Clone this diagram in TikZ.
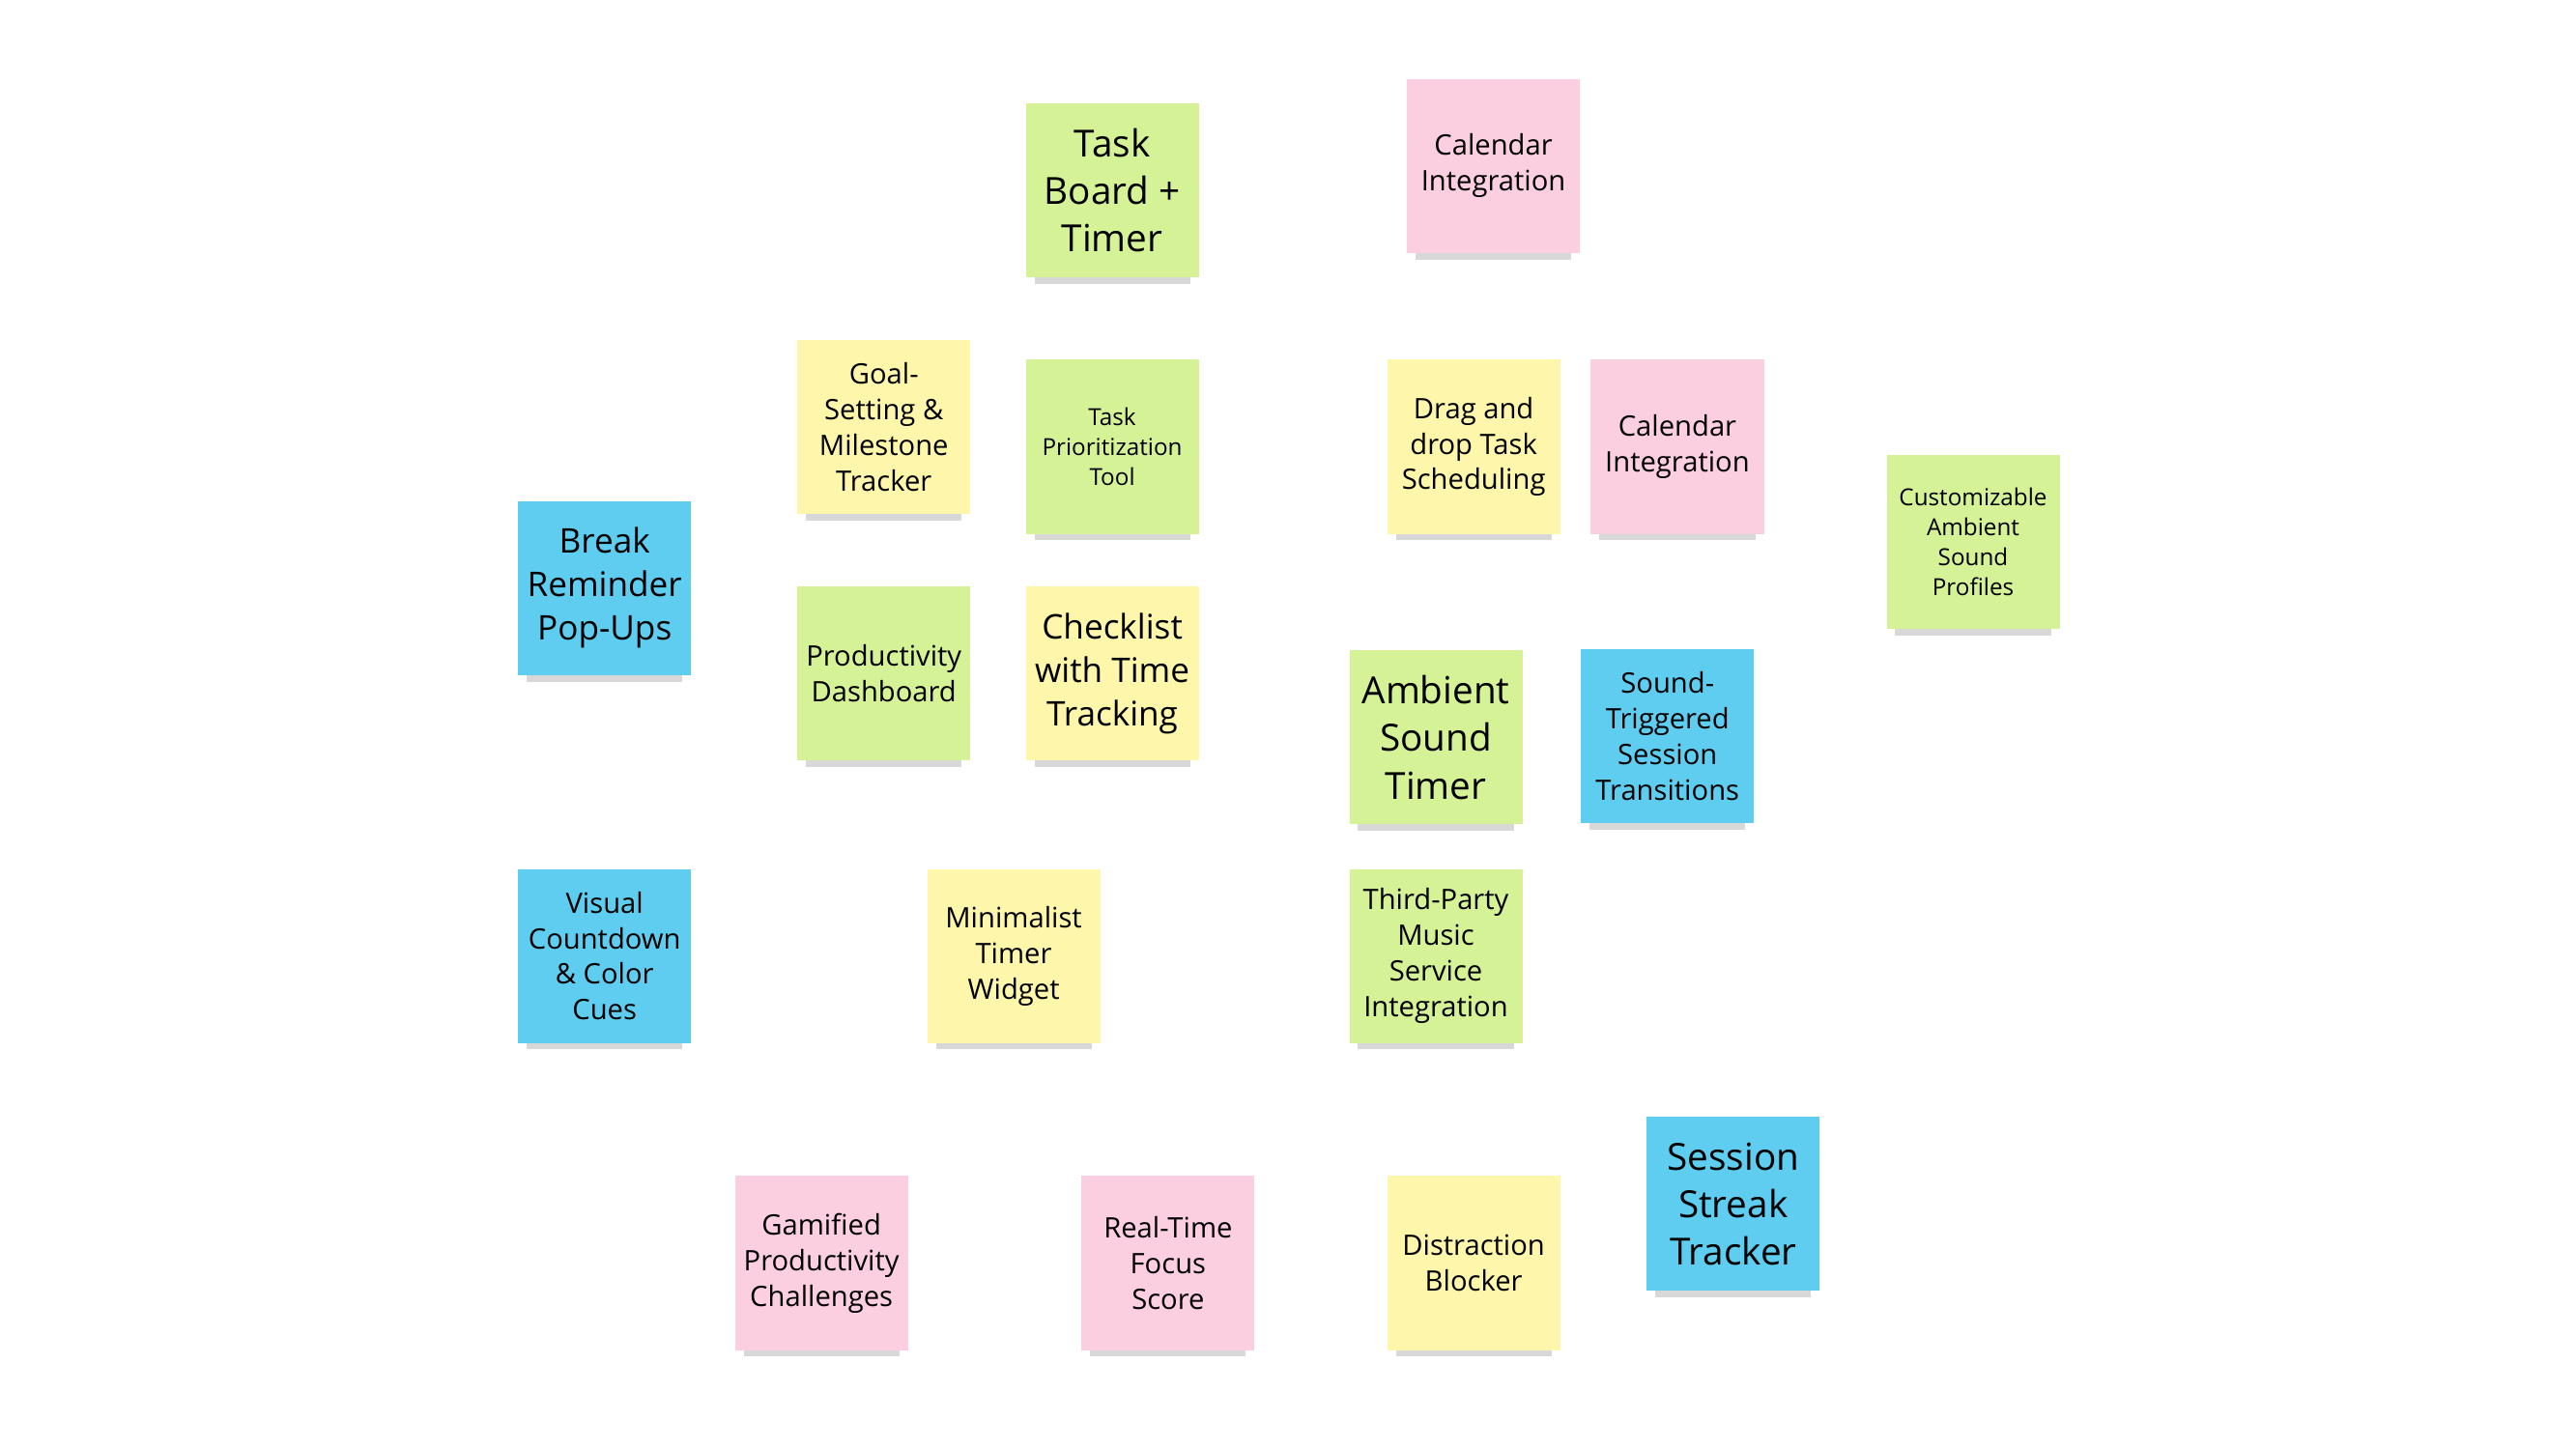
\documentclass[tikz,border=0pt]{standalone}
\usepackage{fontspec}
\setmainfont{Open Sans}
\usetikzlibrary{shadows}
\definecolor{notegreen}{RGB}{214,242,150}
\definecolor{notepink}{RGB}{251,207,224}
\definecolor{noteyellow}{RGB}{254,246,170}
\definecolor{noteblue}{RGB}{94,205,240}
\tikzset{
  note/.style={minimum width=1.79cm, minimum height=1.8cm, align=center, inner sep=0pt, outer sep=0pt,
    drop shadow={opacity=.3, shadow xshift=0pt, shadow yshift=-5pt, shadow scale=.9}},
  huge/.style={font=\fontsize{11}{14}\selectfont},
  big/.style={font=\fontsize{10}{12.8}\selectfont},
  mid/.style={font=\fontsize{8.3}{10.5}\selectfont},
  small/.style={font=\fontsize{6.9}{8.8}\selectfont}
}
\begin{document}
\begin{tikzpicture}[x=0.017cm, y=-0.017cm]
\useasboundingbox[fill=white] (0,0) rectangle (1568,882);
\node[note, huge, fill=notegreen] (taskboard) at (677,116) {Task\\Board +\\Timer};
\node[note, mid, fill=notepink] (calendar1) at (909,101) {Calendar\\Integration};
\node[note, mid, fill=noteyellow] (goal) at (538,260) {Goal-\\Setting \&\\Milestone\\Tracker};
\node[note, small, fill=notegreen] (priority) at (677,272) {Task\\Prioritization\\Tool};
\node[note, mid, fill=noteyellow] (dragdrop) at (897,272) {Drag and\\drop Task\\Scheduling};
\node[note, mid, fill=notepink] (calendar2) at (1021,272) {Calendar\\Integration};
\node[note, small, fill=notegreen] (ambientprofiles) at (1201,330) {Customizable\\Ambient\\Sound\\Profiles};
\node[note, big, fill=noteblue] (breakreminder) at (368,358) {Break\\Reminder\\Pop-Ups};
\node[note, mid, fill=notegreen] (dashboard) at (538,410) {Productivity\\Dashboard};
\node[note, big, fill=noteyellow] (checklist) at (677,410) {Checklist\\with Time\\Tracking};
\node[note, huge, fill=notegreen] (ambienttimer) at (874,449) {Ambient\\Sound\\Timer};
\node[note, mid, fill=noteblue] (soundtrigger) at (1015,448) {Sound-\\Triggered\\Session\\Transitions};
\node[note, mid, fill=noteblue] (countdown) at (368,582) {Visual\\Countdown\\\& Color\\Cues};
\node[note, mid, fill=noteyellow] (minimalist) at (617,582) {Minimalist\\Timer\\Widget};
\node[note, mid, fill=notegreen] (music) at (874,582) {Third-Party\\Music\\Service\\Integration};
\node[note, mid, fill=notepink] (gamified) at (500,769) {Gamified\\Productivity\\Challenges};
\node[note, mid, fill=notepink] (focusscore) at (711,769) {Real-Time\\Focus\\Score};
\node[note, mid, fill=noteyellow] (distraction) at (897,769) {Distraction\\Blocker};
\node[note, huge, fill=noteblue] (streak) at (1055,733) {Session\\Streak\\Tracker};
\end{tikzpicture}
\end{document}
